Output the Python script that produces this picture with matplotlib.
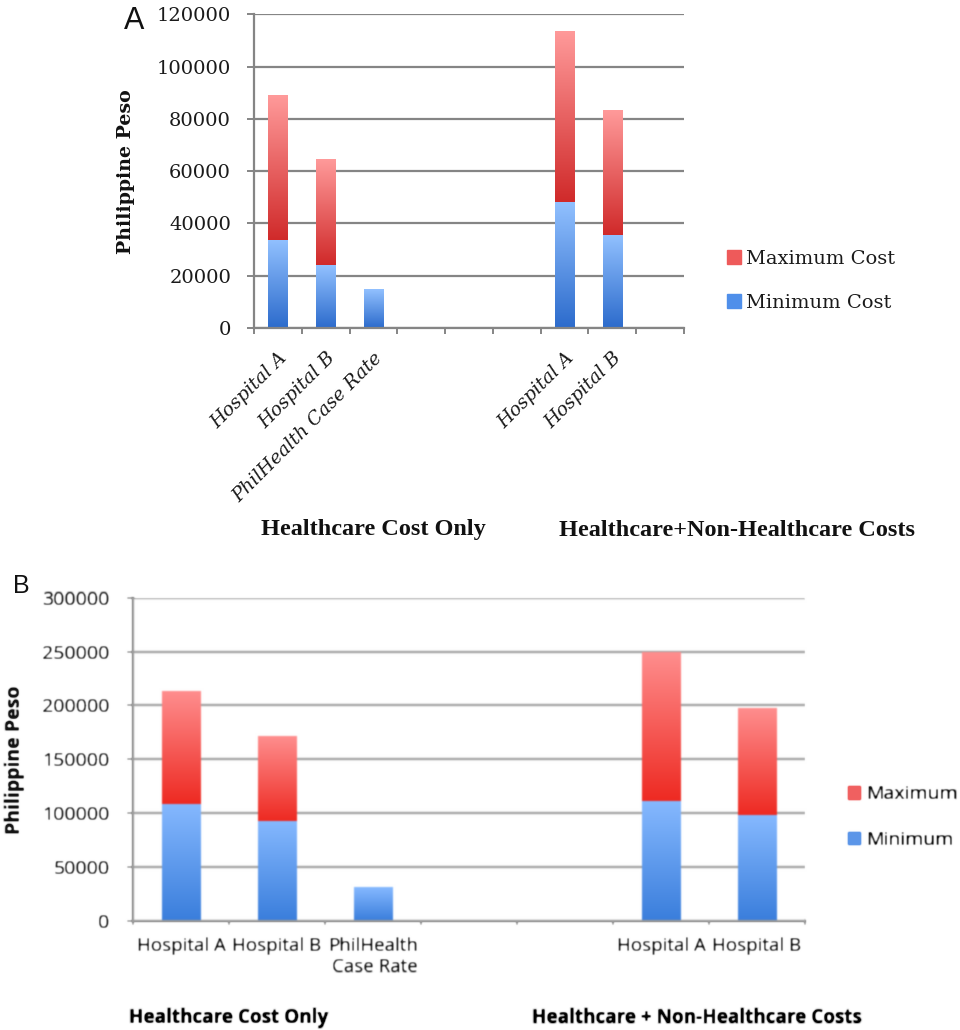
import numpy as np
import matplotlib
matplotlib.use("Agg")
import matplotlib.pyplot as plt
from matplotlib.colors import LinearSegmentedColormap
from matplotlib.patches import Patch

# ---------------- data ----------------
# Panel A: healthcare cost per case (Philippine Peso)
labels_a = ["Hospital A", "Hospital B", "PhilHealth Case Rate", "", "", "",
            "Hospital A", "Hospital B", ""]
min_a = [33700, 24000, 14800, np.nan, np.nan, np.nan, 48300, 35600, np.nan]
max_a = [89100, 64500, np.nan, np.nan, np.nan, np.nan, 113600, 83400, np.nan]
groups_a = ["Healthcare Cost Only", "Healthcare+Non-Healthcare Costs"]
yticks_a = [0, 20000, 40000, 60000, 80000, 100000, 120000]

# Panel B
labels_b = ["Hospital A", "Hospital B", "PhilHealth\nCase Rate", "", "",
            "Hospital A", "Hospital B"]
min_b = [109000, 93000, 31000, np.nan, np.nan, 111000, 98000]
max_b = [213000, 171000, np.nan, np.nan, np.nan, 249000, 197000]
groups_b = ["Healthcare Cost Only", "Healthcare + Non-Healthcare Costs"]
yticks_b = [0, 50000, 100000, 150000, 200000, 250000, 300000]

# ---------------- styling helpers ----------------
blue_a = LinearSegmentedColormap.from_list("blue_a", ["#2c6bcc", "#92c1ff"])
red_a = LinearSegmentedColormap.from_list("red_a", ["#d02a2a", "#ff9a9a"])
blue_b = LinearSegmentedColormap.from_list("blue_b", ["#3a7edc", "#86b9ff"])
red_b = LinearSegmentedColormap.from_list("red_b", ["#ee2a22", "#ff8e8e"])
ramp = np.linspace(0, 1, 256).reshape(-1, 1)


def gradient_bars(ax, container, cmap):
    """Paint each bar of a container with a vertical colour ramp."""
    for rect in container.patches:
        x0, y0 = rect.get_x(), rect.get_y()
        w, h = rect.get_width(), rect.get_height()
        if not np.isfinite(h) or h <= 0:
            continue
        rect.set_alpha(0)
        ax.imshow(ramp, cmap=cmap, origin="lower", aspect="auto",
                  extent=[x0, x0 + w, y0, y0 + h], zorder=2,
                  interpolation="bilinear")


def slot_axis(ax, n, labels):
    ax.set_xlim(-0.5, n - 0.5)
    ax.set_xticks(np.arange(n + 1) - 0.5)
    ax.set_xticklabels([])
    ax.set_xticks(np.arange(n), minor=True)
    ax.set_xticklabels(labels, minor=True)


def soften(im, dpi, sigma=0.8, gain=1.4):
    """Gaussian blur used as an agg filter (soft, scanned look)."""
    pad = int(3 * sigma) + 1
    a = np.pad(im, ((pad, pad), (pad, pad), (0, 0)))
    k = np.exp(-0.5 * (np.arange(-pad, pad + 1) / sigma) ** 2)
    k /= k.sum()
    for axis in (0, 1):
        out = np.zeros_like(a)
        for i, w in enumerate(k):
            out += w * np.roll(a, i - pad, axis=axis)
        a = out
    a[..., 3] = np.clip(a[..., 3] * gain, 0, 1)
    return a, -pad, -pad


fig = plt.figure(figsize=(9.6, 10.3), dpi=100)

# ================= Panel A =================
axA = fig.add_axes([254 / 960, 1 - 328 / 1030, 430 / 960, 313.7 / 1030])
n_a = len(labels_a)
xa = np.arange(n_a)
mina = np.array(min_a)
maxa = np.array(max_a)
has_min = np.isfinite(mina)
has_max = np.isfinite(maxa)
barsA_min = axA.bar(xa[has_min], mina[has_min], width=0.4, color="#5a9af0")
barsA_max = axA.bar(xa[has_max], maxa[has_max] - mina[has_max], width=0.4,
                    bottom=mina[has_max], color="#e85050")
gradient_bars(axA, barsA_min, blue_a)
gradient_bars(axA, barsA_max, red_a)

axA.set_ylim(0, 120000)
axA.set_yticks(yticks_a)
axA.set_yticklabels([str(v) for v in yticks_a], fontsize=14,
                    fontfamily="DejaVu Serif", color="#1a1a1a")
slot_axis(axA, n_a, labels_a)
for t in axA.get_xticklabels(minor=True):
    t.set_rotation(45)
    t.set_ha("right")
    t.set_va("top")
    t.set_rotation_mode("anchor")
    t.set_fontfamily("DejaVu Serif")
    t.set_fontstyle("italic")
    t.set_fontsize(13.5)
    t.set_color("#1a1a1a")
axA.set_axisbelow(True)
axA.yaxis.grid(True, color="#858585", linewidth=1.6)
for s in ["top", "right"]:
    axA.spines[s].set_visible(False)
for s in ["left", "bottom"]:
    axA.spines[s].set_color("#858585")
    axA.spines[s].set_linewidth(1.6)
axA.tick_params(axis="y", length=5, width=1.4, color="#858585", pad=11.5)
axA.tick_params(axis="x", which="major", length=4, width=1.4, color="#858585")
axA.tick_params(axis="x", which="minor", length=0, pad=15)
axA.set_ylabel("Philippine Peso", fontsize=13.7, fontweight="bold",
               fontfamily="DejaVu Serif", color="#111111")
axA.yaxis.set_label_coords((135 - 254) / 430, 0.5)

legA = axA.legend(handles=[Patch(color="#ee5a5a", label="Maximum Cost"),
                           Patch(color="#4f8fea", label="Minimum Cost")],
                  loc="center left", bbox_to_anchor=(727 / 960, 1 - 281 / 1030),
                  bbox_transform=fig.transFigure, frameon=False,
                  prop={"family": "DejaVu Serif", "size": 14},
                  handlelength=0.7, handleheight=0.7, handletextpad=0.3,
                  labelspacing=1.33, borderpad=0, borderaxespad=0)
for t in legA.get_texts():
    t.set_color("#1a1a1a")

fig.text(373 / 960, 1 - 530 / 1030, groups_a[0], ha="center", va="center",
         fontsize=17.5, fontweight="bold", fontfamily="Liberation Serif",
         color="#111111")
fig.text(737 / 960, 1 - 530 / 1030, groups_a[1], ha="center", va="center",
         fontsize=17.5, fontweight="bold", fontfamily="Liberation Serif",
         color="#111111")
fig.text(134 / 960, 1 - 21 / 1030, "A", ha="center", va="center",
         fontsize=22, fontfamily="Liberation Sans", color="#111111")

# ================= Panel B =================
axB = fig.add_axes([133 / 960, 1 - 921 / 1030, 672 / 960, 323.3 / 1030])
n_b = len(labels_b)
xb = np.arange(n_b)
minb = np.array(min_b)
maxb = np.array(max_b)
has_min = np.isfinite(minb)
has_max = np.isfinite(maxb)
barsB_min = axB.bar(xb[has_min], minb[has_min], width=0.4, color="#5a9af0")
barsB_max = axB.bar(xb[has_max], maxb[has_max] - minb[has_max], width=0.4,
                    bottom=minb[has_max], color="#f05050")
gradient_bars(axB, barsB_min, blue_b)
gradient_bars(axB, barsB_max, red_b)

axB.set_ylim(0, 300000)
axB.set_yticks(yticks_b)
axB.set_yticklabels([str(v) for v in yticks_b], fontsize=14,
                    fontfamily="Open Sans", color="#262626")
slot_axis(axB, n_b, labels_b)
for t in axB.get_xticklabels(minor=True):
    t.set_fontfamily("Open Sans")
    t.set_fontsize(13.5)
    t.set_color("#262626")
    t.set_multialignment("right")
axB.set_axisbelow(True)
axB.yaxis.grid(True, color="#a0a0a0", linewidth=1.6)
for s in ["top", "right"]:
    axB.spines[s].set_visible(False)
for s in ["left", "bottom"]:
    axB.spines[s].set_color("#9a9a9a")
    axB.spines[s].set_linewidth(1.5)
axB.tick_params(axis="y", length=4, width=1.2, color="#9a9a9a", pad=13)
axB.tick_params(axis="x", which="major", length=3, width=1.2, color="#9a9a9a")
axB.tick_params(axis="x", which="minor", length=0, pad=11.5)
axB.set_ylabel("Philippine Peso", fontsize=14, fontweight="bold",
               fontfamily="Open Sans", color="#111111")
axB.yaxis.set_label_coords((25 - 133) / 672, 0.5)

legB = axB.legend(handles=[Patch(color="#f06060", label="Maximum"),
                           Patch(color="#5b95e8", label="Minimum")],
                  loc="center left", bbox_to_anchor=(848 / 960, 1 - 817 / 1030),
                  bbox_transform=fig.transFigure, frameon=False,
                  prop={"family": "Open Sans", "size": 14},
                  handlelength=0.6, handleheight=0.6, handletextpad=0.35,
                  labelspacing=1.4, borderpad=0, borderaxespad=0)
for t in legB.get_texts():
    t.set_color("#111111")

txtB = [
    fig.text(129 / 960, 1 - 1018 / 1030, groups_b[0], ha="left", va="center",
             fontsize=13.6, fontweight="bold", fontfamily="Open Sans",
             color="#000000"),
    fig.text(532 / 960, 1 - 1018 / 1030, groups_b[1], ha="left", va="center",
             fontsize=13.6, fontweight="bold", fontfamily="Open Sans",
             color="#000000"),
]
fig.text(21 / 960, 1 - 586 / 1030, "B", ha="center", va="center",
         fontsize=18, fontfamily="Liberation Sans", color="#111111")

# panel B is reproduced with a slightly soft rendering
axB.set_agg_filter(soften)
for t in txtB:
    t.set_agg_filter(soften)

fig.savefig("out.png", dpi=100)
